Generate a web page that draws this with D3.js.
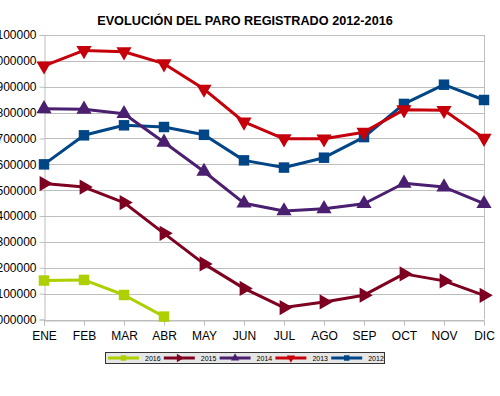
<!DOCTYPE html>
<html>
<head>
<meta charset="utf-8">
<script src="https://cdn.jsdelivr.net/npm/d3@7"></script>
<style>
  body { margin: 0; background: #fff; }
  svg { display: block; font-family: "Liberation Sans", Arial, sans-serif; }
</style>
</head>
<body>
<script>
(function(){

//months on the x axis
var months = ["ENE","FEB","MAR","ABR","MAY","JUN","JUL","AGO","SEP","OCT","NOV","DIC"];

//registered unemployment, one array per year
var paro2012 = [4599829, 4712098, 4750867, 4744235, 4714122, 4615269, 4587455, 4625634, 4705279, 4833521, 4907817, 4848723];
var paro2013 = [4980778, 5040222, 5035243, 4989193, 4890928, 4763680, 4698814, 4698783, 4724355, 4811383, 4808908, 4701338];
var paro2014 = [4814435, 4812486, 4795866, 4684987, 4572385, 4449701, 4419860, 4427930, 4447650, 4526804, 4512153, 4447711];
var paro2015 = [4525691, 4512116, 4451939, 4333016, 4215031, 4120304, 4046276, 4067955, 4094042, 4176369, 4149298, 4093508];
var paro2016 = [4150710, 4152986, 4094770, 4011171];

//y tick values
var yTicks = [4000000, 4100000, 4200000, 4300000, 4400000, 4500000, 4600000, 4700000, 4800000, 4900000, 5000000, 5100000];

//legend order as in the picture
var series = [
    {name: "2016", values: paro2016, color: "#aecf00", symbol: "square", rot: 0},
    {name: "2015", values: paro2015, color: "#7e0021", symbol: "triangle", rot: 90},
    {name: "2014", values: paro2014, color: "#4b1f6f", symbol: "triangle", rot: 0},
    {name: "2013", values: paro2013, color: "#c5000b", symbol: "triangle", rot: 180},
    {name: "2012", values: paro2012, color: "#004586", symbol: "square", rot: 0}
];

var width = 500, height = 396;

var svg = d3.select("body").append("svg")
    .attr("width", width)
    .attr("height", height);

var x = d3.scalePoint().domain(months).range([44, 484]);
var y = d3.scaleLinear().domain([4000000, 5100000]).range([319.5, 35]);

//title
svg.append("text")
    .attr("x", 245)
    .attr("y", 25)
    .attr("text-anchor", "middle")
    .style("font-size", "12.7px")
    .style("font-weight", "bold")
    .text("EVOLUCIÓN DEL PARO REGISTRADO 2012-2016");

//horizontal grid
svg.append("g").selectAll("line")
    .data(yTicks)
    .enter().append("line")
    .attr("x1", 44).attr("x2", 484)
    .attr("y1", function(d){ return Math.round(y(d)) + 0.5; })
    .attr("y2", function(d){ return Math.round(y(d)) + 0.5; })
    .attr("stroke", "#bdbdbd")
    .attr("stroke-width", 1);

//right border of plot area
svg.append("line")
    .attr("x1", 484.5).attr("x2", 484.5)
    .attr("y1", y(5100000)).attr("y2", y(4000000))
    .attr("stroke", "#bdbdbd");

//y axis (labels run off the left edge, as in the original)
var yAxis = d3.axisLeft(y)
    .tickValues(yTicks)
    .tickSize(5)
    .tickPadding(3)
    .tickFormat(d3.format("d"));
var gy = svg.append("g")
    .attr("transform", "translate(44.5,0)")
    .call(yAxis);
gy.select(".domain").attr("stroke", "#bdbdbd");
gy.selectAll(".tick line").attr("stroke", "#bdbdbd");
gy.selectAll("text").style("font-size", "12px").attr("fill", "#000").style("font-family", "Liberation Sans, Arial, sans-serif");

//x axis
var xAxis = d3.axisBottom(x).tickSize(5).tickPadding(6);
var gx = svg.append("g")
    .attr("transform", "translate(0," + (Math.round(y(4000000)) + 0.5) + ")")
    .call(xAxis);
gx.select(".domain").attr("stroke", "#bdbdbd");
gx.selectAll(".tick line").attr("stroke", "#bdbdbd");
gx.selectAll("text").style("font-size", "12px").attr("fill", "#000").style("font-family", "Liberation Sans, Arial, sans-serif");

var line = d3.line()
    .x(function(d, i){ return x(months[i]); })
    .y(function(d){ return y(d); });

function symbolPath(s, size){
    return d3.symbol().type(s.symbol === "square" ? d3.symbolSquare : d3.symbolTriangle).size(size)();
}

//draw series, 2012 first
series.slice().reverse().forEach(function(s){
    var g = svg.append("g");
    g.append("path")
        .datum(s.values)
        .attr("fill", "none")
        .attr("stroke", s.color)
        .attr("stroke-width", 3)
        .attr("stroke-linejoin", "round")
        .attr("d", line);
    g.selectAll("path.mark")
        .data(s.values)
        .enter().append("path")
        .attr("class", "mark")
        .attr("d", symbolPath(s, s.symbol === "square" ? 110 : 100))
        .attr("fill", s.color)
        .attr("transform", function(d, i){
            return "translate(" + x(months[i]) + "," + y(d) + ") rotate(" + s.rot + ")";
        });
});

//legend
var legend = svg.append("g");
legend.append("rect")
    .attr("x", 105.5).attr("y", 352.5)
    .attr("width", 279).attr("height", 11)
    .attr("fill", "#e6e6e6")
    .attr("stroke", "#333")
    .attr("stroke-width", 1);

var items = legend.selectAll("g.item")
    .data(series)
    .enter().append("g")
    .attr("transform", function(d, i){ return "translate(" + (108 + i * 55.8) + ",358)"; });
items.append("line")
    .attr("x1", 0).attr("x2", 31)
    .attr("stroke", function(d){ return d.color; })
    .attr("stroke-width", 3);
items.append("path")
    .attr("d", function(d){ return symbolPath(d, 30); })
    .attr("fill", function(d){ return d.color; })
    .attr("transform", function(d){ return "translate(15.5,0) rotate(" + d.rot + ")"; });
items.append("text")
    .attr("x", 37)
    .attr("y", 2.5)
    .style("font-size", "7px")
    .text(function(d){ return d.name; });

})();
</script>
</body>
</html>
